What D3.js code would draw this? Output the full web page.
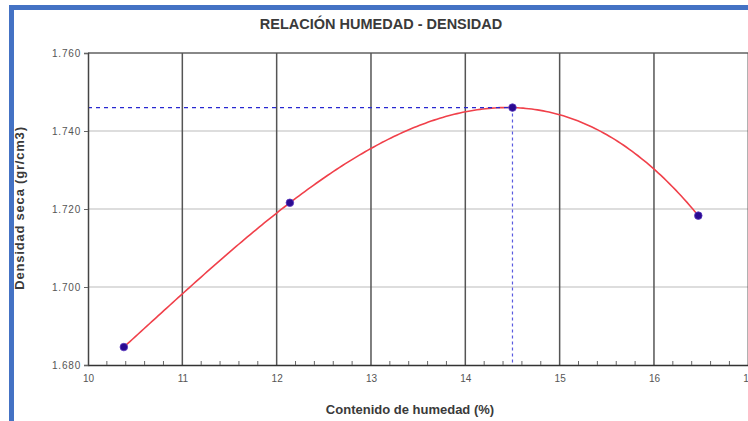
<!DOCTYPE html>
<html><head><meta charset="utf-8">
<script src="https://cdn.jsdelivr.net/npm/d3@7"></script>
<style>body{margin:0;background:#fff;}svg{display:block;font-family:"Liberation Sans",Arial,sans-serif;}</style>
</head><body>
<svg id="c" width="748" height="421"></svg>
<script>
const humedad = [10.38, 12.14, 14.50, 16.47];
const densidad = [1.6846, 1.7216, 1.7460, 1.7183];
const optHumedad = 14.50;
const maxDensidad = 1.7460;
const xTicks = [10, 11, 12, 13, 14, 15, 16, 17];
const yTicks = [1.680, 1.700, 1.720, 1.740, 1.760];
const title = "RELACIÓN HUMEDAD - DENSIDAD";
const xTitle = "Contenido de humedad (%)";
const yTitle = "Densidad seca (gr/cm3)";

const svg = d3.select("#c");
// frame
svg.append("rect").attr("x",9).attr("y",5).attr("width",739).attr("height",5).attr("fill","#4472c4");
svg.append("rect").attr("x",9).attr("y",5).attr("width",5).attr("height",416).attr("fill","#4472c4");

const x = d3.scaleLinear().domain([10,17]).range([88,748.3]);
const y = d3.scaleLinear().domain([1.680,1.760]).range([365,53]);

// horizontal grid
svg.append("g").selectAll("line").data(yTicks.slice(1)).join("line")
  .attr("x1",88).attr("x2",748).attr("y1",d=>y(d)).attr("y2",d=>y(d))
  .attr("stroke",(d,i)=> d===1.760 ? "#888" : "#bbb").attr("stroke-width",(d)=> d===1.760?2:1);
// vertical grid
svg.append("g").selectAll("line").data(xTicks.slice(1)).join("line")
  .attr("y1",53).attr("y2",365).attr("x1",d=>x(d)).attr("x2",d=>x(d))
  .attr("stroke","#555").attr("stroke-width",1.5);

// fitted curve (cubic through measured points)
function fit(t){
  let s=0;
  for(let i=0;i<humedad.length;i++){
    let l=1;
    for(let j=0;j<humedad.length;j++) if(j!==i) l*=(t-humedad[j])/(humedad[i]-humedad[j]);
    s+=l*densidad[i];
  }
  return s;
}
const xs = d3.range(humedad[0], humedad[humedad.length-1]+1e-9, (humedad[humedad.length-1]-humedad[0])/200);
svg.append("path").datum(xs)
  .attr("d", d3.line().x(d=>x(d)).y(d=>y(fit(d))).curve(d3.curveLinear))
  .attr("fill","none").attr("stroke","#f0404a").attr("stroke-width",1.6);

// reference dashed lines
svg.append("line").attr("x1",88).attr("x2",x(optHumedad)).attr("y1",y(maxDensidad)).attr("y2",y(maxDensidad))
  .attr("stroke","#2828d0").attr("stroke-width",1.2).attr("stroke-dasharray","4,4");
svg.append("line").attr("x1",x(optHumedad)).attr("x2",x(optHumedad)).attr("y1",y(maxDensidad)).attr("y2",365)
  .attr("stroke","#5a5ae0").attr("stroke-width",1.2).attr("stroke-dasharray","3,3");

// axes
const xAxis = d3.axisBottom(x).tickValues(xTicks).tickSize(0).tickPadding(10).tickFormat(d3.format("d"));
const gx = svg.append("g").attr("transform","translate(0,365)").call(xAxis);
gx.select(".domain").attr("stroke","#333").attr("stroke-width",1.5);
gx.selectAll("text").attr("font-size",10).attr("fill","#555");
// minor ticks
const minor = d3.range(10,17.001,0.2).filter(v=>Math.abs(v-Math.round(v))>0.01);
svg.append("g").selectAll("line").data(minor).join("line")
  .attr("x1",d=>x(d)).attr("x2",d=>x(d)).attr("y1",365).attr("y2",361)
  .attr("stroke","#666").attr("stroke-width",1);

const yAxis = d3.axisLeft(y).tickValues(yTicks).tickSize(4).tickPadding(3).tickFormat(d3.format(".3f"));
const gy = svg.append("g").attr("transform","translate(88,0)").call(yAxis);
gy.select(".domain").attr("stroke","#444").attr("stroke-width",1.5);
gy.selectAll(".tick line").attr("stroke","#666");
gy.selectAll("text").attr("font-size",10).attr("letter-spacing",0.8).attr("fill","#555");

// points
svg.append("g").selectAll("circle").data(humedad).join("circle")
  .attr("cx",d=>x(d)).attr("cy",(d,i)=>y(densidad[i])).attr("r",3.8)
  .attr("fill","#2a0a90").attr("stroke","#5a3ac0").attr("stroke-width",0.8);

// titles
svg.append("text").attr("x",381).attr("y",29).attr("text-anchor","middle")
  .attr("font-size",14.5).attr("font-weight","bold").attr("fill","#3a3a3a").text(title);
svg.append("text").attr("x",410).attr("y",414).attr("text-anchor","middle")
  .attr("font-size",13).attr("font-weight","bold").attr("fill","#3a3a3a").text(xTitle);
svg.append("text").attr("transform","translate(24,208) rotate(-90)").attr("text-anchor","middle")
  .attr("font-size",13).attr("letter-spacing",0.8).attr("font-weight","bold").attr("fill","#3a3a3a").text(yTitle);
</script>
</body></html>
